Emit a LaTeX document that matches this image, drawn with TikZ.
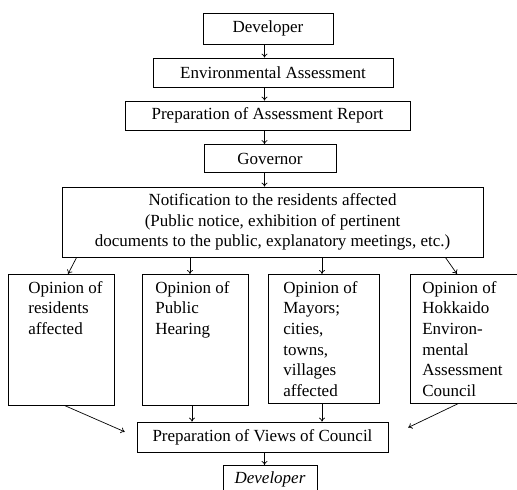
\documentclass[tikz,border=0pt]{standalone}
\usepackage{fontspec}
\setmainfont{Liberation Serif}
\usepackage{tikz}
\usetikzlibrary{calc,arrows.meta,positioning}
\tikzset{
  stepbox/.style  = {draw, line width=0.7pt, inner sep=0pt, align=center,
                     font=\fontsize{17}{20.5}\selectfont},
  opbox/.style    = {draw, line width=0.7pt, anchor=north west, inner xsep=0pt, inner ysep=7pt,
                     font=\fontsize{17}{20.6}\selectfont},
  flow/.style     = {-{To[length=4pt,width=6pt]}, line width=0.7pt},
}
% box width, box height, left indent, text
\newcommand{\optext}[4]{\parbox[t][#2][t]{#1}{\raggedright\leftskip=#3\relax #4}}

\begin{document}
\begin{tikzpicture}[x=1pt,y=-1pt]
  \useasboundingbox (0,0) rectangle (517,490);
  \coordinate (axis) at (264.5,0);
  \node[stepbox, minimum width=130pt, minimum height=31pt] (dev1) at (268,28.5) {Developer};
  \node[stepbox, minimum width=240pt, minimum height=29pt] (env) at (273,72.5) {Environmental Assessment};
  \node[stepbox, minimum width=285pt, minimum height=29pt] (prep) at (267.5,115.5) {Preparation of Assessment Report};
  \node[stepbox, minimum width=132pt, minimum height=28pt] (gov) at (270,158.5) {Governor};
  \node[stepbox, minimum width=421pt, minimum height=70pt] (notif) at (272.5,222)
    {Notification to the residents affected\\(Public notice, exhibition of pertinent\\documents to the public, explanatory meetings, etc.)};
  \node[opbox] (op1) at (8,274) {\optext{106pt}{117pt}{20pt}{Opinion of\\residents\\affected}};
  \node[opbox] (op2) at (142,274) {\optext{106pt}{117pt}{13pt}{Opinion of\\Public\\Hearing}};
  \node[opbox] (op3) at (268,274) {\optext{111pt}{115pt}{15pt}{Opinion of\\Mayors;\\cities,\\towns,\\villages\\affected}};
  \node[opbox] (op4) at (410,274) {\optext{107pt}{115pt}{12pt}{Opinion of\\Hokkaido\\Environ-\\mental\\Assessment\\Council}};
  \node[stepbox, minimum width=251pt, minimum height=30pt] (views) at (262.5,437) {Preparation of Views of Council};
  \node[stepbox, minimum width=94pt, minimum height=28pt, anchor=north] (dev2) at (270,465) {\itshape Developer};
  % main line
  \draw[flow] (dev1.south -| axis) -- (env.north -| axis);
  \draw[flow] (env.south -| axis) -- (prep.north -| axis);
  \draw[flow] (prep.south -| axis) -- (gov.north -| axis);
  \draw[flow] (gov.south -| axis) -- (notif.north -| axis);
  % to the opinions
  \draw[flow] ([xshift=15pt]notif.south west) -- ([xshift=60pt]op1.north west);
  \draw[flow] ([xshift=48pt]op2.north west |- notif.south) coordinate (n2) -- (n2 |- op2.north);
  \draw[flow] ([xshift=54pt]op3.north west |- notif.south) coordinate (n3) -- (n3 |- op3.north);
  \draw[flow] ([xshift=-38pt]notif.south east) -- ([xshift=47pt]op4.north west);
  % back to the council
  \draw[flow, shorten >=13pt] ([xshift=57pt]op1.south west) -- (views.west);
  \draw[flow] ([xshift=50pt]op2.south west) coordinate (o2) -- (o2 |- views.north);
  \draw[flow] ([xshift=54pt]op3.south west) coordinate (o3) -- (o3 |- views.north);
  \draw[flow, shorten >=22pt] ([xshift=48pt]op4.south west) -- (views.east);
  \draw[flow] (views.south -| axis) -- (dev2.north -| axis);
\end{tikzpicture}
\end{document}
